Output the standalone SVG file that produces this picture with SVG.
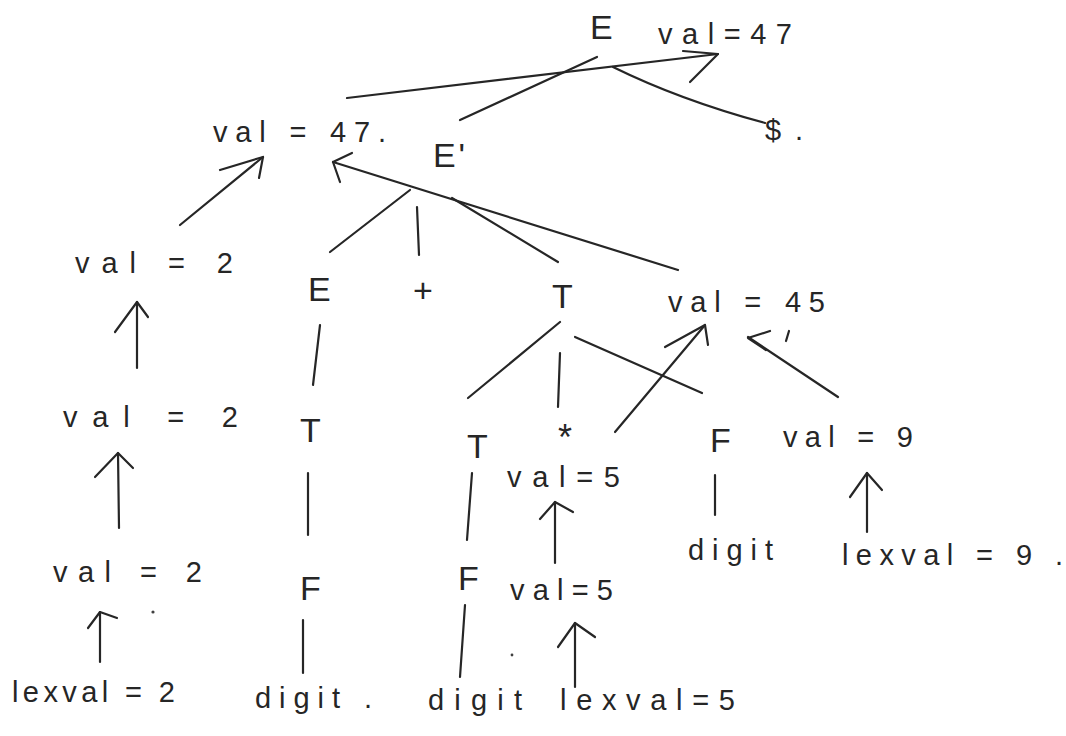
<svg xmlns="http://www.w3.org/2000/svg" width="1066" height="736" viewBox="0 0 1066 736">
  <style>
    .bg { fill: #ffffff; }
    .sym { font-family: "Liberation Sans", "DejaVu Sans", sans-serif; font-size: 34px; fill: #262626; }
    .lbl { font-family: "Liberation Sans", "DejaVu Sans", sans-serif; font-size: 29px; fill: #262626; }
    .edge { fill: none; stroke: #262626; stroke-width: 2.2; stroke-linecap: round; stroke-linejoin: round; }
    .dot { fill: #404040; }
  </style>

  <rect class="bg" x="0" y="0" width="1066" height="736"/>

  <!-- tree edges and synthesized-attribute arrows -->
  <g id="connectors">
    <!-- E -> E' and E -> $ -->
    <path class="edge" d="M597,57 L460,120"/>
    <path class="edge" d="M613,67 Q680,100 765,123"/>
    <!-- val of E' carried up to E -->
    <path class="edge" d="M347,98 L718,54"/>
    <path class="edge" d="M683,51 L718,54 L690,82"/>

    <!-- E' -> E + T -->
    <path class="edge" d="M410,190 L330,252"/>
    <path class="edge" d="M417,207 L419,255"/>
    <path class="edge" d="M452,198 L558,262"/>

    <!-- val=2 -> val=47 -->
    <path class="edge" d="M180,225 L263,157"/>
    <path class="edge" d="M220,170 L263,157 L259,178"/>
    <!-- val=45 -> val=47 -->
    <path class="edge" d="M678,270 L333,162"/>
    <path class="edge" d="M352,153 L333,162 L340,182"/>

    <!-- left chain E -> T -> F -> digit -->
    <path class="edge" d="M320,325 L313,385"/>
    <path class="edge" d="M308,473 L308,535"/>
    <path class="edge" d="M303,620 L303,673"/>

    <!-- left attribute arrows -->
    <path class="edge" d="M137,368 L137,302"/>
    <path class="edge" d="M115,332 L137,302 L148,317"/>
    <path class="edge" d="M119,528 L118,453"/>
    <path class="edge" d="M95,477 L118,453 L133,468"/>
    <path class="edge" d="M100,662 L100,612"/>
    <path class="edge" d="M88,628 L100,612 L117,618"/>

    <!-- T -> T * F -->
    <path class="edge" d="M560,322 L468,398"/>
    <path class="edge" d="M560,353 L558,407"/>
    <path class="edge" d="M575,337 L702,393"/>

    <!-- inner T -> F -> digit -->
    <path class="edge" d="M472,473 L467,540"/>
    <path class="edge" d="M465,605 L460,677"/>

    <!-- val=5 chain -->
    <path class="edge" d="M555,563 L555,502"/>
    <path class="edge" d="M540,519 L555,502 L573,512"/>
    <path class="edge" d="M575,687 L575,623"/>
    <path class="edge" d="M558,647 L575,623 L595,637"/>

    <!-- val=5 -> val=45 and val=9 -> val=45 -->
    <path class="edge" d="M615,432 L705,325"/>
    <path class="edge" d="M665,347 L705,325 L708,345"/>
    <path class="edge" d="M838,397 L748,337"/>
    <path class="edge" d="M770,331 L748,338 L766,350"/>
    <path class="edge" d="M789,331 L786,341"/>

    <!-- right F -> digit, lexval=9 -> val=9 -->
    <path class="edge" d="M715,475 L715,515"/>
    <path class="edge" d="M867,532 L867,473"/>
    <path class="edge" d="M850,497 L867,473 L882,490"/>
  </g>

  <!-- nodes -->
  <g id="node-E-root"><text class="sym" x="590" y="39">E</text></g>
  <g id="node-E-root-val"><text class="lbl" x="658" y="44" textLength="134" lengthAdjust="spacing">val=47</text></g>
  <g id="node-dollar"><text class="lbl" x="765" y="140" textLength="38" lengthAdjust="spacing">$ .</text></g>

  <g id="node-Eprime-val"><text class="lbl" x="213" y="142" textLength="173" lengthAdjust="spacing">val = 47.</text></g>
  <g id="node-Eprime"><text class="sym" x="433" y="167" textLength="32" lengthAdjust="spacing">E'</text></g>

  <g id="node-val2-top"><text class="lbl" x="75" y="273" textLength="158" lengthAdjust="spacing">val = 2</text></g>
  <g id="node-E"><text class="sym" x="308" y="301">E</text></g>
  <g id="node-plus"><text class="sym" x="413" y="302">+</text></g>
  <g id="node-T"><text class="sym" x="552" y="308">T</text></g>
  <g id="node-val45"><text class="lbl" x="668" y="312" textLength="157" lengthAdjust="spacing">val = 45</text></g>

  <g id="node-val2-mid"><text class="lbl" x="63" y="427" textLength="175" lengthAdjust="spacing">val = 2</text></g>
  <g id="node-T-left"><text class="sym" x="300" y="442">T</text></g>
  <g id="node-T-inner"><text class="sym" x="467" y="458">T</text></g>
  <g id="node-star"><text class="sym" x="558" y="450" style="font-size:36px">*</text></g>
  <g id="node-val5-top"><text class="lbl" x="507" y="487" textLength="113" lengthAdjust="spacing">val=5</text></g>
  <g id="node-F-right"><text class="sym" x="710" y="452">F</text></g>
  <g id="node-val9"><text class="lbl" x="783" y="447" textLength="130" lengthAdjust="spacing">val = 9</text></g>

  <g id="node-digit-right"><text class="lbl" x="688" y="560" textLength="85" lengthAdjust="spacing">digit</text></g>
  <g id="node-lexval9"><text class="lbl" x="842" y="565" textLength="221" lengthAdjust="spacing">lexval = 9 .</text></g>

  <g id="node-val2-bottom"><text class="lbl" x="53" y="582" textLength="149" lengthAdjust="spacing">val = 2</text></g>
  <g id="node-F-left"><text class="sym" x="300" y="600">F</text></g>
  <g id="node-F-inner"><text class="sym" x="458" y="590">F</text></g>
  <g id="node-val5-bottom"><text class="lbl" x="510" y="600" textLength="103" lengthAdjust="spacing">val=5</text></g>

  <g id="node-lexval2"><text class="lbl" x="12" y="702" textLength="163" lengthAdjust="spacing">lexval = 2</text></g>
  <g id="node-digit-left"><text class="lbl" x="255" y="708" textLength="117" lengthAdjust="spacing">digit .</text></g>
  <g id="node-digit-inner"><text class="lbl" x="428" y="710" textLength="94" lengthAdjust="spacing">digit</text></g>
  <g id="node-lexval5"><text class="lbl" x="560" y="710" textLength="175" lengthAdjust="spacing">lexval=5</text></g>

  <!-- loose pen marks -->
  <g id="marks">
    <circle class="dot" cx="153" cy="612" r="1.6"/>
    <circle class="dot" cx="512" cy="655" r="1.4"/>
  </g>
</svg>
